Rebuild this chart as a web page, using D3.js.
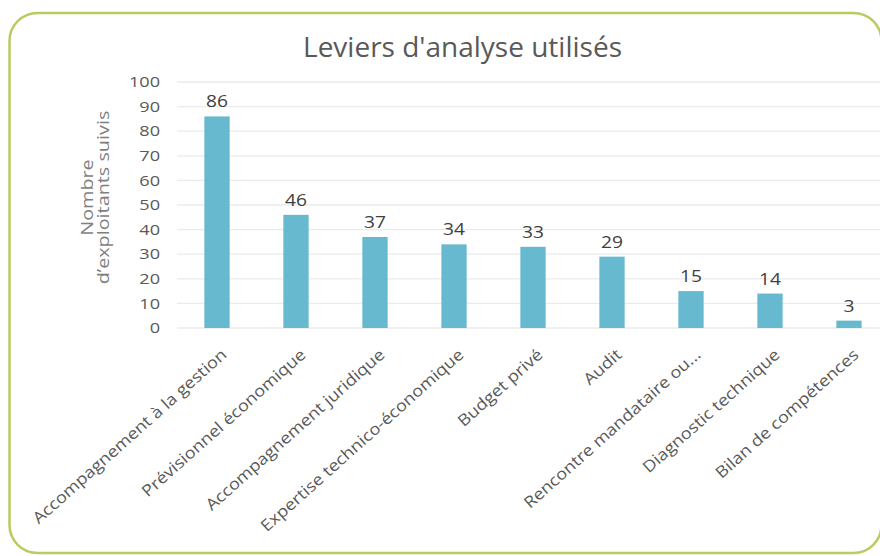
<!DOCTYPE html>
<html><head><meta charset="utf-8">
<script src="https://cdn.jsdelivr.net/npm/d3@7"></script>
<style>body{margin:0;background:#fff;}svg{display:block;}</style>
</head><body>
<script>
const categories = ["Accompagnement à la gestion","Prévisionnel économique","Accompagnement juridique","Expertise technico-économique","Budget privé","Audit","Rencontre mandataire ou...","Diagnostic technique","Bilan de compétences"];
const values = [86,46,37,34,33,29,15,14,3];
const yTicks = [0,10,20,30,40,50,60,70,80,90,100];
const title = "Leviers d'analyse utilisés";
const yTitle = ["Nombre","d’exploitants suivis"];

const W=880,H=556;
const svg=d3.select("body").append("svg").attr("width",W).attr("height",H);
const font="'Open Sans', 'Noto Sans', sans-serif";

svg.append("rect").attr("x",9.5).attr("y",13).attr("width",872).attr("height",540).attr("rx",28)
  .attr("fill","#fff").attr("stroke","#b8cc62").attr("stroke-width",2.5);

const x=d3.scaleBand().domain(categories).range([177.5,888.5]).paddingInner(0.68).paddingOuter(0.34);
const y=d3.scaleLinear().domain([0,100]).range([328,82]);

// gridlines
svg.append("g").selectAll("line").data(yTicks).join("line")
  .attr("x1",177).attr("x2",880).attr("y1",d=>y(d)).attr("y2",d=>y(d))
  .attr("stroke","#ebebeb").attr("stroke-width",1.3);

const yAxis=d3.axisLeft(y).tickValues(yTicks).tickSize(0).tickPadding(0);
const gy=svg.append("g").attr("transform","translate(160,0)").call(yAxis);
gy.select(".domain").remove();
gy.selectAll("text").attr("font-family",font).attr("font-size",14.5).attr("fill","#595959")
  .attr("transform","scale(1.25,1)");

svg.append("g").selectAll("rect").data(values).join("rect")
  .attr("x",(d,i)=>x(categories[i])).attr("width",x.bandwidth())
  .attr("y",d=>y(d)).attr("height",d=>y(0)-y(d)).attr("fill","#66b9cf");

svg.append("g").selectAll("text").data(values).join("text")
  .attr("transform",(d,i)=>`translate(${x(categories[i])+x.bandwidth()/2},${y(d)-9}) scale(1.2,1)`)
  .attr("text-anchor","middle").attr("font-family",font).attr("font-size",16).attr("fill","#404040")
  .text(d=>d);

// x labels
const xAxis=d3.axisBottom(x).tickSize(0).tickPadding(0);
const gx=svg.append("g").attr("transform","translate(0,352)").call(xAxis);
gx.select(".domain").remove();
gx.selectAll("text").attr("font-family",font).attr("font-size",16).attr("fill","#595959")
  .attr("text-anchor","end").attr("y",0).attr("dy","0.35em").attr("transform","translate(7,0) rotate(-41.7) scale(1.13,1)");

svg.append("text").attr("x",462.5).attr("y",57).attr("text-anchor","middle")
  .attr("font-family",font).attr("font-size",28).attr("fill","#595959").text(title);

const yTitleX=[92.5,109];
yTitle.forEach((t,i)=>{
  svg.append("text").attr("transform",`translate(${yTitleX[i]},197.5) rotate(-90) scale(1.2,1)`)
    .attr("text-anchor","middle").attr("font-family",font).attr("font-size",16.5).attr("fill","#7f7f7f").text(t);
});
</script>
</body></html>
